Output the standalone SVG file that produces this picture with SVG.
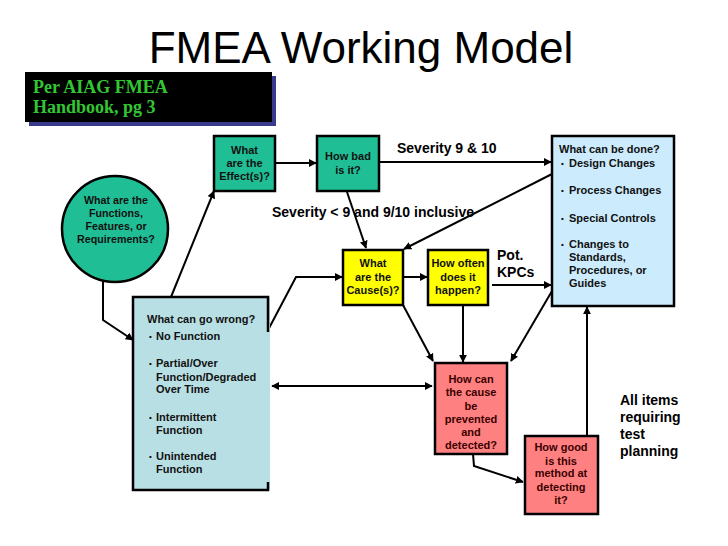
<svg xmlns="http://www.w3.org/2000/svg" width="728" height="546" viewBox="0 0 728 546">
<defs>
<marker id="ah" viewBox="0 0 10 10" refX="9" refY="5" markerWidth="8" markerHeight="8" markerUnits="userSpaceOnUse" orient="auto-start-reverse">
<path d="M0,0 L10,5 L0,10 z" fill="#000"/>
</marker>
<style>
.t{font-family:"Liberation Sans",Arial,sans-serif;font-weight:bold;font-size:11px;fill:#111}
.c{text-anchor:middle}
.lab{font-family:"Liberation Sans",Arial,sans-serif;font-weight:bold;font-size:14px;fill:#000}
.box{stroke:#000;stroke-width:2.5}
.teal{fill:#20BE95}
.yel{fill:#FFFF00}
.sal{fill:#FF8080}
.red{fill:#3a0000}
.cn line,.cn polyline{stroke:#000;stroke-width:2;fill:none}
.cn .a{marker-end:url(#ah)}
</style>
</defs>
<rect width="728" height="546" fill="#fff"/>
<text x="361" y="63" text-anchor="middle" font-family="Liberation Sans,Arial,sans-serif" font-size="44" fill="#000">FMEA Working Model</text>
<g id="source">
<rect x="29" y="76" width="247" height="50" fill="#3a3a8c"/>
<rect x="25" y="72" width="247" height="50" fill="#000"/>
<text x="33" y="93" font-family="Liberation Serif,Times New Roman,serif" font-weight="bold" font-size="18" fill="#33C633">Per AIAG FMEA</text>
<text x="33" y="113" font-family="Liberation Serif,Times New Roman,serif" font-weight="bold" font-size="18" fill="#33C633">Handbook, pg 3</text>
</g>
<g class="cn" id="connectors">
<line class="a" x1="275" y1="163" x2="316" y2="163"/>
<line class="a" x1="379" y1="162" x2="551" y2="162"/>
<line class="a" x1="347" y1="192" x2="366" y2="248"/>
<line class="a" x1="552" y1="174" x2="404" y2="249"/>
<line class="a" x1="403" y1="277" x2="427" y2="277"/>
<line class="a" x1="492" y1="285" x2="551" y2="285"/>
<polyline class="a" points="103,270 103,320 133,340"/>
<line class="a" x1="171" y1="297" x2="214" y2="191"/>
<polyline class="a" points="267,332 296,277 342,277"/>
<line x1="272" y1="386" x2="432" y2="386" marker-start="url(#ah)" marker-end="url(#ah)"/>
<line class="a" x1="403" y1="305" x2="433" y2="361"/>
<line class="a" x1="463" y1="305" x2="463" y2="362"/>
<line class="a" x1="552" y1="291" x2="511" y2="361"/>
<polyline class="a" points="473,454 474,466 523,482"/>
<line class="a" x1="587" y1="436" x2="587" y2="307"/>
</g>
<g id="functions">
<circle cx="115" cy="229" r="53" class="box teal"/>
<text class="t c" x="116" y="204" style="font-size:10.7px">What are the</text>
<text class="t c" x="116" y="217" style="font-size:10.7px">Functions,</text>
<text class="t c" x="116" y="230" style="font-size:10.7px">Features, or</text>
<text class="t c" x="116" y="243" style="font-size:10.7px">Requirements?</text>
</g>
<g id="effects">
<rect x="214" y="136" width="61" height="55" class="box teal"/>
<text class="t c" x="244.5" y="154">What</text>
<text class="t c" x="244.5" y="167">are the</text>
<text class="t c" x="244.5" y="180">Effect(s)?</text>
</g>
<g id="howbad">
<rect x="317" y="136" width="62" height="55" class="box teal"/>
<text class="t c" x="348" y="160">How bad</text>
<text class="t c" x="348" y="174">is it?</text>
</g>
<g id="labels">
<text class="lab" x="397" y="153">Severity 9 &amp; 10</text>
<text class="lab" x="272" y="217">Severity &lt; 9 and 9/10 inclusive</text>
<text class="lab" x="497" y="260">Pot.</text>
<text class="lab" x="497" y="277">KPCs</text>
<text class="lab" x="620" y="405">All items</text>
<text class="lab" x="620" y="422">requiring</text>
<text class="lab" x="620" y="439">test</text>
<text class="lab" x="620" y="456">planning</text>
</g>
<g id="done">
<rect x="552" y="136" width="122" height="170" class="box" fill="#CCEBFC"/>
<text class="t" x="559" y="153">What can be done?</text>
<text class="t" x="561" y="166" style="font-size:8px">•</text>
<text class="t" x="569" y="167">Design Changes</text>
<text class="t" x="561" y="193" style="font-size:8px">•</text>
<text class="t" x="569" y="194">Process Changes</text>
<text class="t" x="561" y="221" style="font-size:8px">•</text>
<text class="t" x="569" y="222">Special Controls</text>
<text class="t" x="561" y="247" style="font-size:8px">•</text>
<text class="t" x="569" y="248">Changes to</text>
<text class="t" x="569" y="261">Standards,</text>
<text class="t" x="569" y="274">Procedures, or</text>
<text class="t" x="569" y="287">Guides</text>
</g>
<g id="causes">
<rect x="343" y="250" width="60" height="55" class="box yel"/>
<text class="t c" x="373" y="267">What</text>
<text class="t c" x="373" y="281">are the</text>
<text class="t c" x="373" y="294">Cause(s)?</text>
</g>
<g id="howoften">
<rect x="428" y="250" width="60" height="55" class="box yel"/>
<text class="t c" x="458" y="267">How often</text>
<text class="t c" x="458" y="281">does it</text>
<text class="t c" x="458" y="294">happen?</text>
</g>
<g id="wrong">
<rect x="133" y="297" width="137" height="193" fill="#B8DFE4"/>
<path d="M268,332 V297 H133 V490 H268 V482" fill="none" stroke="#000" stroke-width="2.5"/>
<text class="t" x="147" y="323">What can go wrong?</text>
<text class="t" x="149" y="339" style="font-size:8px">•</text>
<text class="t" x="156" y="340">No Function</text>
<text class="t" x="149" y="366" style="font-size:8px">•</text>
<text class="t" x="156" y="367">Partial/Over</text>
<text class="t" x="156" y="381">Function/Degraded</text>
<text class="t" x="156" y="393">Over Time</text>
<text class="t" x="149" y="420" style="font-size:8px">•</text>
<text class="t" x="156" y="421">Intermittent</text>
<text class="t" x="156" y="434">Function</text>
<text class="t" x="149" y="459" style="font-size:8px">•</text>
<text class="t" x="156" y="460">Unintended</text>
<text class="t" x="156" y="473">Function</text>
</g>
<g id="prevent">
<rect x="435" y="363" width="72" height="91" class="box sal"/>
<text class="t c red" x="471" y="383">How can</text>
<text class="t c red" x="471" y="396">the cause</text>
<text class="t c red" x="471" y="410">be</text>
<text class="t c red" x="471" y="423">prevented</text>
<text class="t c red" x="471" y="436">and</text>
<text class="t c red" x="471" y="449">detected?</text>
</g>
<g id="howgood">
<rect x="525" y="436" width="73" height="78" class="box sal"/>
<text class="t c red" x="561" y="451">How good</text>
<text class="t c red" x="561" y="465">is this</text>
<text class="t c red" x="561" y="477">method at</text>
<text class="t c red" x="561" y="491">detecting</text>
<text class="t c red" x="561" y="504">it?</text>
</g>
</svg>
